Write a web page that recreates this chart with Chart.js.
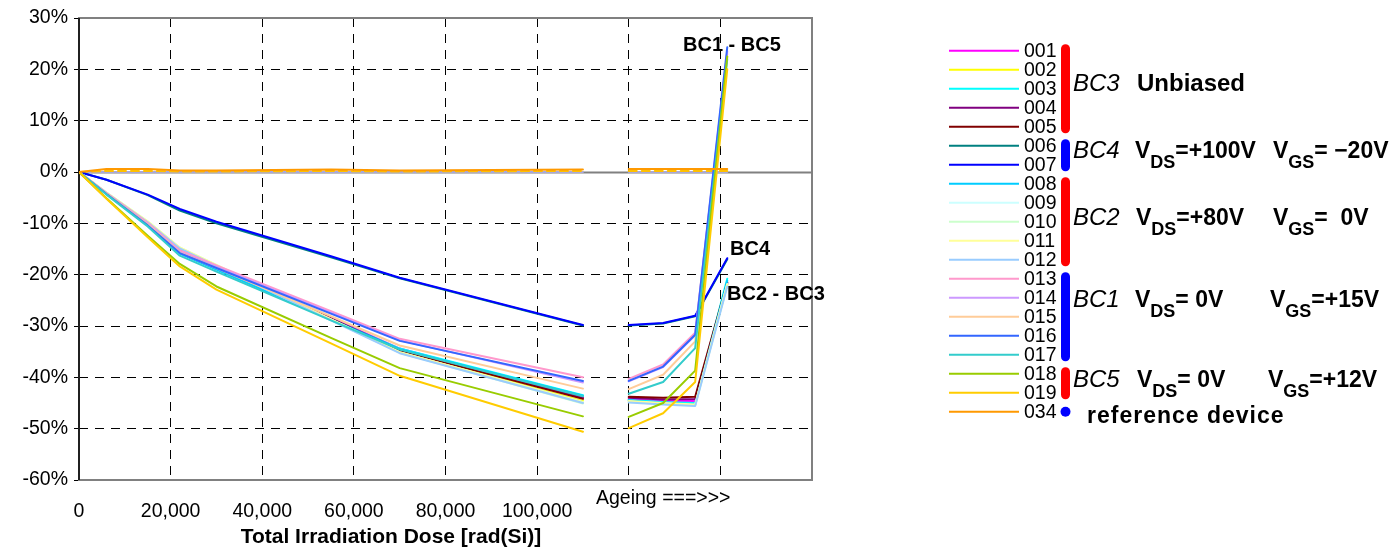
<!DOCTYPE html>
<html>
<head>
<meta charset="utf-8">
<script src="https://cdn.jsdelivr.net/npm/chart.js@4.4.0/dist/chart.umd.min.js"></script>
<style>
  html, body { margin: 0; padding: 0; background: #fff; }
  canvas { display: block; }
</style>
</head>
<body>
<canvas id="chart" width="1399" height="550"></canvas>
<script>
// Dose steps of the irradiation run and the ageing steps that follow it
const irradiationDose = [0, 6000, 15000, 22000, 30000, 55000, 70000, 110000];
const ageingDose = [120000, 127500, 134500, 141500];
const labelledDoseLimit = 100000;

// Relative change [%] per device: 8 irradiation steps, then 4 ageing steps
const dev001 = [0, -4.2, -10.0, -15.2, -18.4, -28.4, -34.4, -43.9, -44.3, -44.6, -44.6, -21.6];
const dev002 = [0, -4.1, -9.8, -14.9, -18.2, -28.7, -34.9, -44.6, -44.6, -45.0, -45.2, -22.0];
const dev003 = [0, -4.3, -10.3, -15.8, -18.9, -28.6, -34.4, -43.5, -44.4, -44.8, -45.0, -20.8];
const dev004 = [0, -4.2, -10.1, -15.1, -18.4, -28.5, -34.6, -44.0, -44.0, -44.3, -44.2, -21.8];
const dev005 = [0, -4.2, -10.1, -15.1, -18.4, -28.6, -34.8, -44.2, -43.8, -44.0, -43.8, -21.5];
const dev006 = [0, -1.5, -4.5, -7.5, -10.0, -16.6, -20.7, -29.9, -29.9, -29.5, -28.1, -17.0];
const dev007 = [0, -1.5, -4.4, -7.2, -9.7, -16.4, -20.6, -29.8, -29.8, -29.4, -28.0, -16.8];
const dev008 = [0, -4.3, -10.4, -15.9, -19.0, -28.7, -34.5, -43.6, -44.5, -45.0, -45.3, -21.2];
const dev009 = [0, -4.0, -9.6, -14.7, -18.1, -28.7, -35.1, -44.8, -44.7, -45.1, -45.4, -21.8];
const dev010 = [0, -4.0, -9.7, -14.8, -18.2, -28.8, -35.2, -45.1, -44.8, -45.2, -45.5, -22.0];
const dev011 = [0, -4.0, -9.6, -14.7, -18.1, -28.7, -35.1, -44.9, -44.6, -45.0, -45.3, -21.9];
const dev012 = [0, -4.1, -9.8, -14.9, -18.3, -28.9, -35.3, -45.0, -44.9, -45.3, -45.6, -22.3];
const dev013 = [0, -4.1, -9.9, -15.3, -18.2, -27.1, -32.5, -40.0, -40.3, -37.5, -31.3, 23.0];
const dev014 = [0, -4.2, -10.1, -15.6, -18.5, -27.4, -32.8, -41.0, -40.8, -38.0, -31.8, 23.5];
const dev015 = [0, -4.2, -10.2, -15.7, -18.7, -28.1, -33.8, -42.2, -42.3, -39.5, -33.0, 22.5];
const dev016 = [0, -4.3, -10.4, -15.8, -18.7, -27.6, -32.9, -40.7, -40.7, -37.9, -31.7, 24.3];
const dev017 = [0, -4.4, -10.6, -16.3, -19.4, -28.9, -34.6, -43.7, -43.2, -40.9, -34.3, 22.0];
const dev018 = [0, -5.1, -12.4, -17.9, -22.3, -32.3, -38.2, -47.6, -47.7, -45.0, -38.7, 22.5];
const dev019 = [0, -5.2, -12.7, -18.4, -22.9, -33.4, -39.7, -50.6, -49.9, -47.0, -40.9, 20.0];
const dev034 = [0, 0.6, 0.6, 0.3, 0.3, 0.5, 0.3, 0.5, 0.6, 0.6, 0.6, 0.6];

// Unlabelled near-zero traces
const zeroTrace = [0, 0, 0, 0, 0, 0, 0, 0, 0, 0, 0, 0];
const refDashedTrace = [0, 0.2, 0.2, 0.1, 0.1, 0.2, 0.1, 0.2, 0.2, 0.2, 0.2, 0.2];

const deviceIds = ['001','002','003','004','005','006','007','008','009','010',
                   '011','012','013','014','015','016','017','018','019','034'];
const deviceValues = [dev001, dev002, dev003, dev004, dev005, dev006, dev007, dev008, dev009, dev010,
                      dev011, dev012, dev013, dev014, dev015, dev016, dev017, dev018, dev019, dev034];
const deviceColors = ['#FF00FF','#FFFF00','#00FFFF','#800080','#800000','#008080','#0000FF','#00CCFF','#CCFFFF','#CCFFCC',
                      '#FFFF99','#99CCFF','#FF99CC','#CC99FF','#FFCC99','#3366FF','#33CCCC','#99CC00','#FFCC00','#FF9900'];

const FONT = '"Liberation Sans", Arial, sans-serif';

function toPoints(values) {
  const pts = irradiationDose.map((x, i) => ({ x, y: values[i] }));
  // break between the irradiation run and the ageing steps
  pts.push({ x: (irradiationDose[irradiationDose.length - 1] + ageingDose[0]) / 2, y: null });
  ageingDose.forEach((x, i) => pts.push({ x, y: values[irradiationDose.length + i] }));
  return pts;
}

const n = deviceIds.length;
const datasets = [
  { label: 'zero', data: toPoints(zeroTrace), borderColor: '#A8A8DC', borderWidth: 2, order: n + 2 },
  { label: 'ref', data: toPoints(refDashedTrace), borderColor: '#FFC000', borderWidth: 2, borderDash: [8, 5], order: n + 1 }
];
deviceIds.forEach((id, i) => {
  datasets.push({
    label: id,
    data: toPoints(deviceValues[i]),
    borderColor: deviceColors[i],
    borderWidth: 2,
    order: n - i
  });
});

// Legend layout: group bars and condition texts
const legendGroups = [
  { from: 0, to: 4, color: '#FF0000', name: 'BC3', base: 91, parts: [{ t: 'Unbiased', x: 1137 }] },
  { from: 5, to: 6, color: '#0000FF', name: 'BC4', base: 158, parts: [
      { v: 'DS', t: '=+100V', x: 1135 }, { v: 'GS', t: '= \u221220V', x: 1273 }] },
  { from: 7, to: 11, color: '#FF0000', name: 'BC2', base: 225, parts: [
      { v: 'DS', t: '=+80V', x: 1136 }, { v: 'GS', t: '=  0V', x: 1273 }] },
  { from: 12, to: 16, color: '#0000FF', name: 'BC1', base: 307, parts: [
      { v: 'DS', t: '= 0V', x: 1135 }, { v: 'GS', t: '=+15V', x: 1270 }] },
  { from: 17, to: 18, color: '#FF0000', name: 'BC5', base: 387, parts: [
      { v: 'DS', t: '= 0V', x: 1137 }, { v: 'GS', t: '=+12V', x: 1268 }] }
];

const decor = {
  id: 'decor',
  beforeDatasetsDraw(chart) {
    const { ctx, chartArea: a, scales } = chart;
    ctx.save();
    // plot frame
    ctx.strokeStyle = '#808080';
    ctx.lineWidth = 2;
    ctx.strokeRect(a.left, a.top, a.right - a.left, a.bottom - a.top);
    // zero line
    const y0 = Math.round(scales.y.getPixelForValue(0)) + 0.5;
    ctx.lineWidth = 2;
    ctx.beginPath(); ctx.moveTo(a.left, y0); ctx.lineTo(a.right, y0); ctx.stroke();
    // value axis
    ctx.strokeStyle = '#000';
    ctx.lineWidth = 1.5;
    ctx.beginPath(); ctx.moveTo(a.left, a.top); ctx.lineTo(a.left, a.bottom); ctx.stroke();
    ctx.restore();
  },
  afterDatasetsDraw(chart) {
    const { ctx } = chart;
    ctx.save();
    ctx.fillStyle = '#000';
    ctx.textBaseline = 'middle';
    ctx.textAlign = 'left';
    ctx.font = 'bold 20px ' + FONT;
    ctx.fillText('BC1 - BC5', 683, 45);
    ctx.fillText('BC4', 730, 249);
    ctx.fillText('BC2 - BC3', 727, 294);
    ctx.restore();
  },
  afterDraw(chart) {
    const { ctx } = chart;
    ctx.save();
    ctx.fillStyle = '#000';
    ctx.textBaseline = 'middle';

    // axis captions
    ctx.textAlign = 'center';
    ctx.font = 'bold 21px ' + FONT;
    ctx.fillText('Total Irradiation Dose [rad(Si)]', 391, 537);
    ctx.textAlign = 'left';
    ctx.font = '19.5px ' + FONT;
    ctx.fillText('Ageing ===>>>', 596, 499);

    // legend entries
    const top = 50.7, step = 19.0;
    deviceIds.forEach((id, i) => {
      const y = top + i * step;
      ctx.strokeStyle = deviceColors[i];
      ctx.lineWidth = 2;
      ctx.beginPath(); ctx.moveTo(949, y); ctx.lineTo(1019, y); ctx.stroke();
      ctx.font = '19.5px ' + FONT;
      ctx.fillStyle = '#000';
      ctx.textBaseline = 'middle';
      ctx.fillText(id, 1024, y + 0.5);
    });

    // group bars and condition texts
    ctx.lineCap = 'round';
    legendGroups.forEach(g => {
      const y1 = top + g.from * step - 5, y2 = top + g.to * step + 5;
      ctx.strokeStyle = g.color;
      ctx.lineWidth = 9;
      ctx.beginPath(); ctx.moveTo(1065.5, y1 + 3); ctx.lineTo(1065.5, y2 - 3); ctx.stroke();

      ctx.fillStyle = '#000';
      ctx.textBaseline = 'alphabetic';
      ctx.font = 'italic 24px ' + FONT;
      ctx.fillText(g.name, 1073, g.base);
      g.parts.forEach(p => {
        let x = p.x;
        if (p.v) {
          ctx.font = 'bold 23px ' + FONT;
          ctx.fillText('V', x, g.base);
          x += ctx.measureText('V').width;
          ctx.font = 'bold 18px ' + FONT;
          ctx.fillText(p.v, x, g.base + 10);
          x += ctx.measureText(p.v).width;
          ctx.font = 'bold 23px ' + FONT;
        } else {
          ctx.font = 'bold 24px ' + FONT;
        }
        ctx.fillText(p.t, x, g.base);
      });
    });

    // reference device marker
    const yRef = top + 19 * step;
    ctx.fillStyle = '#0000FF';
    ctx.beginPath(); ctx.arc(1065.5, yRef, 5, 0, Math.PI * 2); ctx.fill();
    ctx.fillStyle = '#000';
    ctx.textBaseline = 'alphabetic';
    ctx.font = 'bold 23px ' + FONT;
    if ('letterSpacing' in ctx) ctx.letterSpacing = '1px';
    ctx.fillText('reference device', 1087, 423);
    ctx.restore();
  }
};

new Chart(document.getElementById('chart'), {
  type: 'line',
  data: { datasets },
  options: {
    responsive: false,
    animation: false,
    devicePixelRatio: 1,
    parsing: true,
    spanGaps: false,
    layout: { padding: { top: 18, right: 587, bottom: 0, left: 0 } },
    elements: { point: { radius: 0 }, line: { tension: 0, borderCapStyle: 'round', borderJoinStyle: 'round' } },
    plugins: { legend: { display: false }, tooltip: { enabled: false } },
    scales: {
      x: {
        type: 'linear',
        min: 0,
        max: 160000,
        afterFit: s => { s.height = 70; },
        ticks: {
          stepSize: 20000,
          autoSkip: false,
          maxRotation: 0,
          padding: 20,
          color: '#000',
          font: { family: FONT, size: 19.5 },
          callback: v => (v <= labelledDoseLimit ? v.toLocaleString('en-US') : '')
        },
        grid: {
          drawTicks: false,
          color: c => (c.tick && (c.tick.value === 0 || c.tick.value === 160000) ? 'rgba(0,0,0,0)' : '#000'),
          lineWidth: 1
        },
        border: { display: false, dash: [9, 7] }
      },
      y: {
        min: -60,
        max: 30,
        afterFit: s => { s.width = 79; },
        ticks: {
          stepSize: 10,
          padding: 6,
          color: '#000',
          font: { family: FONT, size: 19.5 },
          callback: v => v + '%'
        },
        grid: {
          drawTicks: true,
          tickLength: 5,
          tickColor: '#000',
          color: c => (c.tick && (c.tick.value === 0 || c.tick.value === 30 || c.tick.value === -60) ? 'rgba(0,0,0,0)' : '#000'),
          lineWidth: 1
        },
        border: { display: false, dash: [9, 7] }
      }
    }
  },
  plugins: [decor]
});
</script>
</body>
</html>
